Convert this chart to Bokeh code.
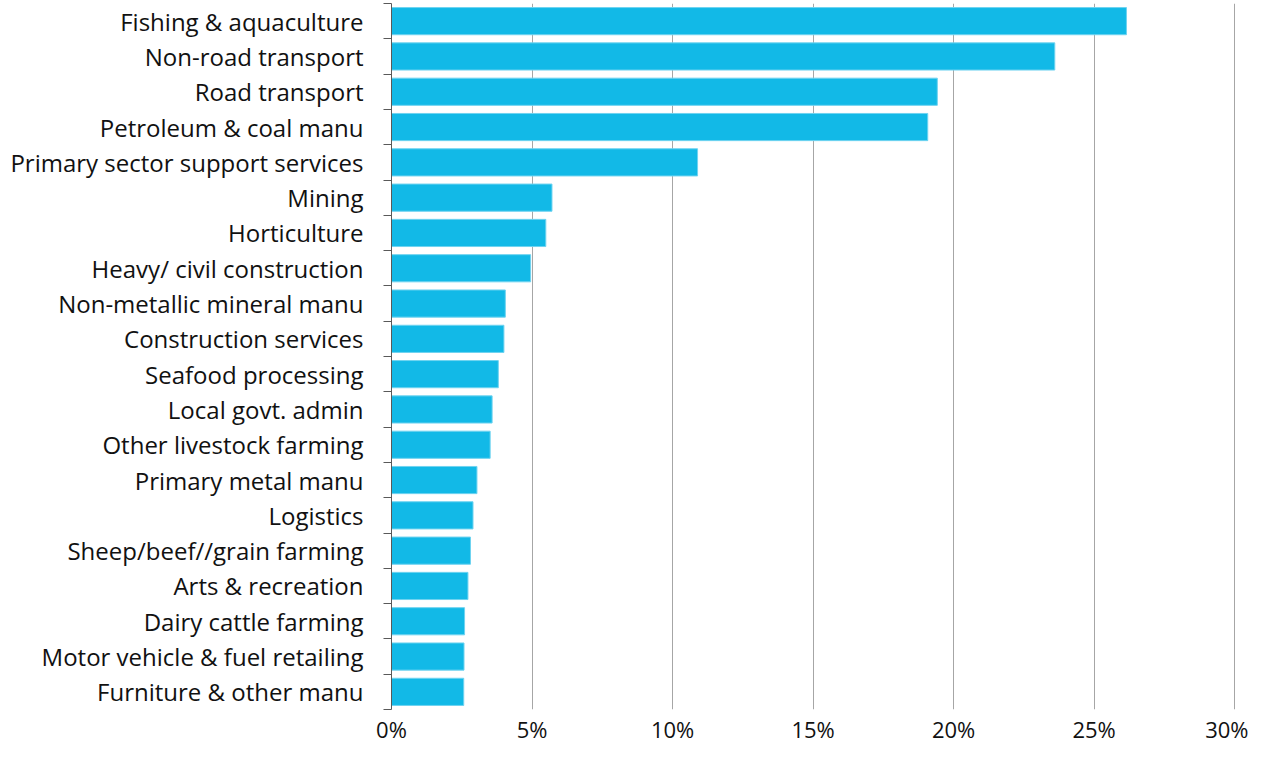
from bokeh.plotting import figure
from bokeh.models import FixedTicker, Range1d, ColumnDataSource
from bokeh.embed import file_html
from bokeh.resources import INLINE

categories = [
    "Fishing & aquaculture", "Non-road transport", "Road transport",
    "Petroleum & coal manu", "Primary sector support services", "Mining",
    "Horticulture", "Heavy/ civil construction", "Non-metallic mineral manu",
    "Construction services", "Seafood processing", "Local govt. admin",
    "Other livestock farming", "Primary metal manu", "Logistics",
    "Sheep/beef//grain farming", "Arts & recreation", "Dairy cattle farming",
    "Motor vehicle & fuel retailing", "Furniture & other manu",
]
values = [26.15, 23.6, 19.42, 19.08, 10.89, 5.71, 5.49, 4.95, 4.05, 4.0,
          3.80, 3.58, 3.51, 3.04, 2.90, 2.81, 2.72, 2.60, 2.58, 2.57]
x_ticks = [0, 5, 10, 15, 20, 25, 30]
x_tick_labels = ["0%", "5%", "10%", "15%", "20%", "25%", "30%"]

n = len(categories)
centers = [n - i - 0.5 for i in range(n)]
src = ColumnDataSource(dict(y=centers, v=values, name=categories))

FONT = "Open Sans"

p = figure(width=1248, height=748, output_backend="svg", toolbar_location=None,
           x_range=Range1d(0, 30.03), y_range=Range1d(0, n),
           min_border_left=391, min_border_right=13, min_border_top=3,
           min_border_bottom=39)
p.outline_line_color = None
p.background_fill_color = "white"

p.hbar(y="y", right="v", left=0, height=0.77, source=src,
       fill_color="#12B9E7", line_color="#6FD3F0", line_width=1)

# x axis
xa = p.xaxis[0]
xa.ticker = FixedTicker(ticks=x_ticks)
xa.major_label_overrides = {t: l for t, l in zip(x_ticks, x_tick_labels)}
xa.axis_line_color = None
xa.major_tick_line_color = None
xa.major_tick_in = 0
xa.major_tick_out = 0
xa.minor_tick_line_color = None
xa.minor_tick_in = 0
xa.minor_tick_out = 0
xa.major_label_standoff = 4
xa.major_label_text_font = FONT
xa.major_label_text_font_size = "22px"
xa.major_label_text_color = "#111111"

# y axis
ya = p.yaxis[0]
ya.ticker = FixedTicker(ticks=centers, minor_ticks=list(range(n + 1)))
ya.major_label_overrides = {c: name for c, name in zip(centers, categories)}
ya.axis_line_color = "#595959"
ya.axis_line_width = 1
ya.major_tick_line_color = None
ya.major_tick_out = 0
ya.major_tick_in = 0
ya.minor_tick_line_color = "#595959"
ya.minor_tick_out = 8
ya.minor_tick_in = 0
ya.major_label_standoff = 20
ya.major_label_text_font = FONT
ya.major_label_text_font_size = "24px"
ya.major_label_text_color = "#111111"

p.xgrid.ticker = FixedTicker(ticks=x_ticks)
p.xgrid.grid_line_color = "#A6A6A6"
p.xgrid.grid_line_width = 1
p.ygrid.grid_line_color = None

open("out.html", "w").write(file_html(p, INLINE))
